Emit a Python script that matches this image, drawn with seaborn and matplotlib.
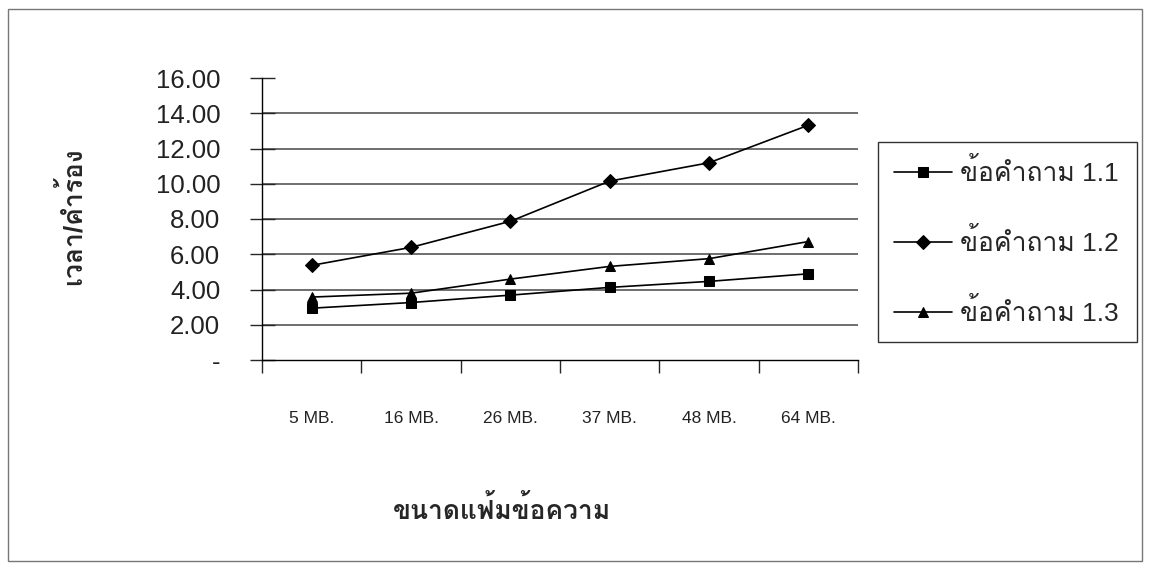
import seaborn as sns
import matplotlib.pyplot as plt
import pandas as pd
from matplotlib import font_manager, ft2font
from matplotlib.patches import Rectangle

sizes = ['5 MB.', '16 MB.', '26 MB.', '37 MB.', '48 MB.', '64 MB.']
q11 = [2.94, 3.26, 3.68, 4.12, 4.46, 4.89]
q12 = [5.37, 6.39, 7.87, 10.15, 11.19, 13.32]
q13 = [3.57, 3.79, 4.59, 5.31, 5.75, 6.72]
series_names = ['ข้อคำถาม 1.1', 'ข้อคำถาม 1.2', 'ข้อคำถาม 1.3']
y_ticks = [0, 2, 4, 6, 8, 10, 12, 14, 16]
y_ticklabels = ['-', '2.00', '4.00', '6.00', '8.00', '10.00', '12.00', '14.00', '16.00']


# find an installed font that has Thai glyphs
def thai_font():
    for f in font_manager.fontManager.ttflist:
        try:
            cmap = ft2font.FT2Font(f.fname).get_charmap()
        except Exception:
            continue
        if 0x0E02 in cmap and 0x0E04 in cmap:
            return f.name
    return None


df = pd.DataFrame({
    'size': sizes * 3,
    'value': q11 + q12 + q13,
    'series': [series_names[0]] * 6 + [series_names[1]] * 6 + [series_names[2]] * 6,
})

sns.set_theme(style='white')
thai = thai_font()
fams = ['Liberation Sans', 'DejaVu Sans']
if thai:
    fams.insert(1, thai)
plt.rcParams['font.family'] = fams

fig = plt.figure(figsize=(11.5, 5.69), dpi=100)
ax = fig.add_axes([262 / 1150, 1 - 360 / 569, 596 / 1150, 282 / 569])

sns.lineplot(data=df, x='size', y='value', hue='series', style='series',
             palette=['black'] * 3, markers=['s', 'D', '^'], dashes=False,
             markersize=7.5, linewidth=1.2, markeredgecolor='black', ax=ax)

ax.set_ylim(0, 16)
ax.set_xlim(-0.5, 5.5)
ax.set_yticks(y_ticks)
ax.set_yticklabels(y_ticklabels, fontsize=18.5, color='#222222')
for y in y_ticks[1:-1]:
    ax.axhline(y, color='#555555', lw=1.2, zorder=0)
ax.tick_params(axis='y', direction='inout', length=18, width=1, left=True, pad=21)
ax.set_xticks(range(6))
ax.set_xticklabels(sizes, fontsize=12.5, color='#222222')
ax.set_xticks([i - 0.5 for i in range(7)], minor=True)
ax.tick_params(axis='x', which='major', length=0, pad=37)
ax.tick_params(axis='x', which='minor', direction='out', length=9, width=1, bottom=True)
for s in ['top', 'right']:
    ax.spines[s].set_visible(False)
for s in ['left', 'bottom']:
    ax.spines[s].set_color('black')
    ax.spines[s].set_linewidth(1)

ax.set_xlabel('ขนาดแฟ้มข้อความ', fontsize=19, fontweight='bold', va='center')
ax.xaxis.set_label_coords((502 - 262) / 596, (360 - 510) / 282)
ax.set_ylabel('เวลา/คำร้อง', fontsize=19, fontweight='bold', va='center')
ax.yaxis.set_label_coords((72 - 262) / 596, (360 - 216) / 282)

handles, labels = ax.get_legend_handles_labels()
ax.legend(handles, labels, loc='center', mode='expand', borderaxespad=0,
          bbox_to_anchor=(878 / 1150, 1 - 347 / 569, 259 / 1150, 210 / 569),
          bbox_transform=fig.transFigure, frameon=True, fancybox=False,
          edgecolor='black', fontsize=19, labelspacing=1.6, handlelength=2.2,
          handletextpad=0.3, borderpad=0.6)

fig.patches.append(Rectangle((8 / 1150, 8 / 569), 1134 / 1150, 552 / 569,
                             transform=fig.transFigure, fill=False,
                             edgecolor='#777777', lw=1))

fig.savefig('out.png', dpi=100)
